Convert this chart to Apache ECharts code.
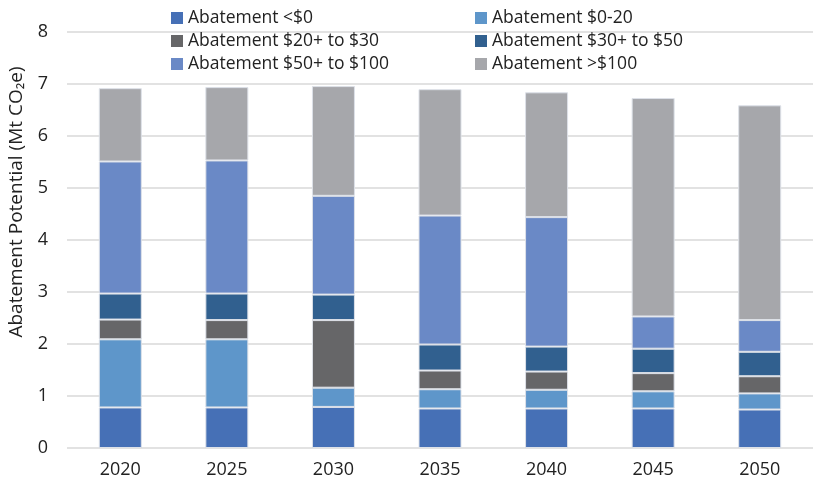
<!DOCTYPE html>
<html>
<head>
<meta charset="utf-8">
<script src="https://cdn.jsdelivr.net/npm/echarts@6/dist/echarts.min.js"></script>
<style>
  html, body { margin: 0; padding: 0; background: #fff; }
  #chart { width: 813px; height: 488px; }
</style>
</head>
<body>
<div id="chart"></div>
<script>
// years on the x axis
var years = ['2020', '2025', '2030', '2035', '2040', '2045', '2050'];
var seriesNames = ['Abatement <$0', 'Abatement $0-20', 'Abatement $20+ to $30',
  'Abatement $30+ to $50', 'Abatement $50+ to $100', 'Abatement >$100'];
// Mt CO2e, stacked bottom to top
var below0 = [0.78, 0.78, 0.79, 0.76, 0.76, 0.76, 0.74];
var from0to20 = [1.31, 1.31, 0.37, 0.37, 0.36, 0.33, 0.31];
var from20to30 = [0.38, 0.37, 1.30, 0.36, 0.35, 0.35, 0.33];
var from30to50 = [0.50, 0.51, 0.49, 0.50, 0.48, 0.47, 0.47];
var from50to100 = [2.54, 2.56, 1.90, 2.48, 2.49, 0.62, 0.61];
var above100 = [1.41, 1.41, 2.11, 2.43, 2.40, 4.20, 4.13];
var colors = ['#4670b6', '#5e96ca', '#666668', '#31608f', '#6a89c6', '#a6a7ab'];

var font = 'Open Sans';
var myChart = echarts.init(document.getElementById('chart'));

var values = [below0, from0to20, from20to30, from30to50, from50to100, above100];
var series = [];
for (var i = 0; i < values.length; i++) {
  series.push({
    name: seriesNames[i],
    type: 'bar',
    stack: 'total',
    barWidth: 43,
    itemStyle: {
      color: colors[i],
      borderColor: '#dde1e8',
      borderWidth: 1
    },
    data: values[i]
  });
}

var legendText = { fontFamily: font, fontSize: 17.5, color: '#222' };

var option = {
  backgroundColor: '#fff',
  animation: false,
  color: colors,
  legend: [{
    left: 166,
    top: 4,
    orient: 'vertical',
    itemWidth: 12,
    itemHeight: 12,
    itemGap: 5,
    icon: 'rect',
    itemStyle: { borderWidth: 0 },
    textStyle: legendText,
    data: [seriesNames[0], seriesNames[2], seriesNames[4]]
  }, {
    left: 470,
    top: 4,
    orient: 'vertical',
    itemWidth: 12,
    itemHeight: 12,
    itemGap: 5,
    icon: 'rect',
    itemStyle: { borderWidth: 0 },
    textStyle: legendText,
    data: [seriesNames[1], seriesNames[3], seriesNames[5]]
  }],
  grid: {
    left: 67,
    top: 32,
    width: 751,
    height: 416
  },
  xAxis: {
    type: 'category',
    data: years,
    axisLine: { show: false },
    axisTick: { show: false },
    axisLabel: {
      margin: 13,
      fontFamily: font,
      fontSize: 18,
      color: '#222'
    }
  },
  yAxis: {
    type: 'value',
    min: 0,
    max: 8,
    interval: 1,
    axisLine: { show: false },
    axisTick: { show: false },
    splitLine: {
      lineStyle: { color: '#d9d9d9', width: 1.5 }
    },
    axisLabel: {
      margin: 19,
      fontFamily: font,
      fontSize: 18,
      color: '#222'
    }
  },
  graphic: [{
    type: 'text',
    x: 17,
    y: 202,
    rotation: Math.PI / 2,
    style: {
      text: 'Abatement Potential (Mt CO₂e)',
      fontFamily: font,
      fontSize: 19,
      fill: '#222',
      textAlign: 'center',
      textVerticalAlign: 'middle'
    }
  }],
  series: series
};
myChart.setOption(option);
</script>
</body>
</html>
